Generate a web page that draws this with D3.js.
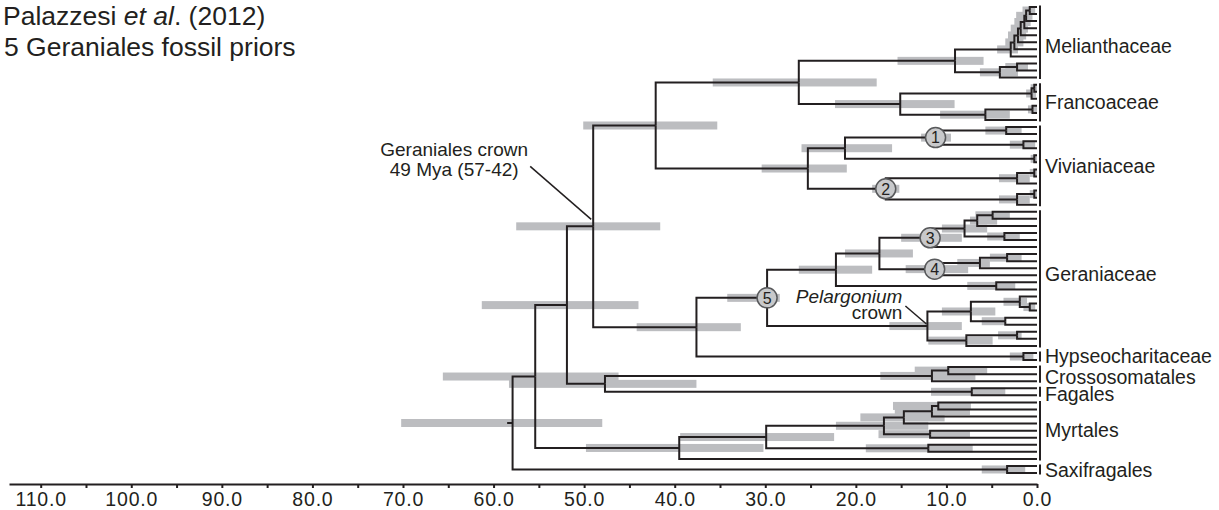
<!DOCTYPE html>
<html>
<head>
<meta charset="utf-8">
<script src="https://cdn.jsdelivr.net/npm/d3@7"></script>
<style>
body { margin: 0; background: #fff; }
svg { display: block; font-family: "Liberation Sans", Arial, sans-serif; }
</style>
</head>
<body>
<div id="chart-area"></div>
<script>
// SVG size
const width = 1219,
	height = 510;

// Internal nodes: [id, parent, age (Mya), 95% HPD older, 95% HPD younger]
const backboneNodes = [
	["root", null, 57.9, 70.2, 48.0],
	["n55", "root", 55.4, 65.6, 46.2],
	["n52", "n55", 51.9, 61.3, 44.0],
	["n49", "n52", 49.0, 57.5, 41.6],
	["n42", "n49", 42.1, 50.1, 35.3],
	["n26", "n42", 26.3, 35.8, 17.7],
	["n25", "n42", 25.3, 30.4, 21.0],
	["n37", "n49", 37.6, 44.2, 32.7],
	["n47", "n52", 47.7, 58.3, 37.6]
];

const melianthaceaeNodes = [
	["mel", "n26", 9.05, 15.4, 5.9],
	["m7", "mel", 2.9, 4.4, 2.1],
	["m6", "m7", 2.5, 3.5, 1.5],
	["m5", "m6", 2.1, 3.2, 1.2],
	["m4", "m5", 1.8, 2.9, 1.0],
	["m3", "m4", 1.4, 2.5, 0.7],
	["m2", "m3", 1.2, 2.3, 0.5],
	["m1", "m2", 0.8, 1.6, 0.2],
	["ml", "mel", 4.1, 6.3, 2.1],
	["ml2", "ml", 2.2, 3.5, 1.0]
];

const francoaceaeNodes = [
	["fra", "n26", 15.1, 22.3, 9.1],
	["fr1", "fra", 0.6, 1.2, 0.1],
	["fr2", "fr1", 0.3, 0.7, 0.0],
	["fr3", "fra", 5.7, 10.7, 3.0],
	["fr4", "fr3", 0.5, 1.0, 0.0]
];

const vivianiaceaeNodes = [
	["n21", "n25", 21.2, 26.0, 16.0],
	["c1", "n21", 11.2, 12.8, 9.5],
	["vi1", "c1", 3.4, 5.7, 1.7],
	["vi2", "c1", 1.5, 3.0, 0.2],
	["vi3", "n21", 0.3, 0.7, 0.0],
	["c2", "n25", 16.7, 18.2, 15.2],
	["vi4", "c2", 2.2, 4.2, 0.8],
	["vi5", "vi4", 0.3, 0.8, 0.0],
	["vi6", "c2", 2.2, 4.2, 0.8],
	["vi7", "vi6", 0.3, 0.8, 0.0]
];

const geraniaceaeNodes = [
	["c5", "n37", 29.8, 34.2, 28.4],
	["g22", "c5", 22.2, 26.3, 18.2],
	["g17", "g22", 17.4, 21.2, 13.7],
	["c3", "g17", 11.8, 15.0, 8.3],
	["g8", "c3", 8.0, 10.5, 5.5],
	["g66", "g8", 6.6, 7.4, 4.4],
	["g49", "g66", 4.9, 6.8, 3.0],
	["g36", "g8", 3.6, 5.5, 1.9],
	["c4", "g17", 11.3, 14.5, 7.6],
	["g63", "c4", 6.3, 8.8, 5.2],
	["g33", "g63", 3.3, 5.2, 1.7],
	["g45", "g22", 4.5, 7.7, 2.4],
	["pel", "c5", 12.1, 16.3, 8.3],
	["p4", "pel", 7.3, 10.5, 4.6],
	["p1", "p4", 1.9, 3.7, 1.1],
	["p1b", "p1", 0.8, 1.5, 0.2],
	["p2", "p4", 3.5, 6.1, 3.5],
	["p5", "pel", 7.8, 12.0, 4.9],
	["p6", "p5", 2.2, 4.3, 1.7],
	["hyp", "n37", 1.5, 3.0, 0.4]
];

const outgroupNodes = [
	["cro2", "n47", 11.6, 17.3, 6.8],
	["cro1", "cro2", 9.8, 13.5, 5.5],
	["fag", "n47", 7.2, 11.7, 3.5],
	["my8", "n55", 39.5, 49.8, 30.2],
	["my7", "my8", 29.9, 39.4, 22.4],
	["my5", "my7", 16.9, 22.2, 12.0],
	["my3", "my5", 14.7, 19.5, 10.2],
	["my2", "my3", 11.6, 15.7, 7.4],
	["my1", "my2", 10.9, 15.9, 7.3],
	["my4", "my5", 11.8, 17.5, 7.4],
	["my6", "my7", 12.0, 18.9, 7.1],
	["sax", "root", 3.3, 6.1, 1.3]
];

// Parent of every tip, top to bottom
const tipParents = [
	"m1", "m1", "m2", "m3", "m4", "m5", "m6", "m7", "ml2", "ml2", "ml",
	"fr2", "fr2", "fr1", "fr4", "fr4", "fr3",
	"vi1", "vi1", "vi2", "vi2", "vi3", "vi3", "vi5", "vi5", "vi4", "vi7", "vi7", "vi6",
	"g49", "g49", "g66", "g36", "g36", "c3", "g33", "g33", "g63", "c4", "g45", "g45",
	"p1", "p1b", "p1b", "p2", "p2", "p6", "p6", "p5",
	"hyp", "hyp",
	"cro1", "cro1", "cro2", "fag", "fag",
	"my1", "my1", "my2", "my3", "my4", "my4", "my6", "my6", "my8",
	"sax", "sax"
];

// Clade labels: [name, first tip, last tip]
const groups = [
	["Melianthaceae", 0, 10],
	["Francoaceae", 11, 16],
	["Vivianiaceae", 17, 28],
	["Geraniaceae", 29, 48],
	["Hypseocharitaceae", 49, 50],
	["Crossosomatales", 51, 53],
	["Fagales", 54, 55],
	["Myrtales", 56, 64],
	["Saxifragales", 65, 66]
];

// Fossil calibration points
const calibrations = [["c1", "1"], ["c2", "2"], ["c3", "3"], ["c4", "4"], ["c5", "5"]];

const majorTicks = [110, 100, 90, 80, 70, 60, 50, 40, 30, 20, 10, 0];
const minorTicks = [105, 95, 85, 75, 65, 55, 45, 35, 25, 15, 5];

const ink = "#231f20";

// small hand nudges of clade label positions (px), as in the figure
const labelNudge = {Melianthaceae: 4, Geraniaceae: -5, Crossosomatales: 3, Fagales: 2, Saxifragales: 1};

drawTree();

function drawTree() {

	let svg = d3.select("#chart-area")
		.append("svg")
		.attr("width", width)
		.attr("height", height);

	// Scales: age runs right to left, tips evenly spaced
	const x = d3.scaleLinear()
		.domain([113.5, 0])
		.range([9, 1037]);

	const y = d3.scaleLinear()
		.domain([0, tipParents.length - 1])
		.range([7, 473]);

	// Build the hierarchy
	let rows = []
		.concat(backboneNodes, melianthaceaeNodes, francoaceaeNodes, vivianiaceaeNodes, geraniaceaeNodes, outgroupNodes)
		.map(r => ({id: r[0], parent: r[1], age: r[2], hi: r[3], lo: r[4]}));
	tipParents.forEach((p, i) => rows.push({id: "t" + i, parent: p, age: 0, tip: i}));

	const root = d3.stratify()
		.id(d => d.id)
		.parentId(d => d.parent)(rows);

	root.eachAfter(n => {
		n.minTip = n.children ? d3.min(n.children, c => c.minTip) : n.data.tip;
	});
	root.sort((a, b) => a.minTip - b.minTip);
	root.eachAfter(n => {
		n.py = n.children
			? (n.children[0].py + n.children[n.children.length - 1].py) / 2
			: y(n.data.tip);
	});

	const nodeById = new Map(root.descendants().map(n => [n.id, n]));

	// HPD bars
	svg.append("g")
		.selectAll("rect")
		.data(root.descendants().filter(n => n.children))
		.enter()
		.append("rect")
		.attr("x", d => x(d.data.hi))
		.attr("y", d => d.py - 4)
		.attr("width", d => x(d.data.lo) - x(d.data.hi))
		.attr("height", 8)
		.style("fill", "#bcbdc0");

	// Branches
	svg.append("g")
		.selectAll("path")
		.data(root.descendants().filter(n => n.parent))
		.enter()
		.append("path")
		.attr("d", d => "M" + x(d.parent.data.age) + "," + d.parent.py
			+ "V" + d.py + "H" + x(d.data.age))
		.style("fill", "none")
		.style("stroke", ink)
		.style("stroke-width", 2);

	// root stem
	svg.append("line")
		.attr("x1", x(58.5))
		.attr("x2", x(root.data.age))
		.attr("y1", root.py)
		.attr("y2", root.py)
		.style("stroke", ink)
		.style("stroke-width", 2);

	// Calibration circles
	let cal = svg.append("g")
		.selectAll("g")
		.data(calibrations)
		.enter()
		.append("g")
		.attr("transform", d => {
			const n = nodeById.get(d[0]);
			return "translate(" + x(n.data.age) + "," + n.py + ")";
		});
	cal.append("circle")
		.attr("r", 10)
		.style("fill", "#c8c9cb")
		.style("stroke", "#58595b")
		.style("stroke-width", 1.5);
	cal.append("text")
		.attr("text-anchor", "middle")
		.attr("dy", "0.36em")
		.style("font-size", "16px")
		.style("fill", ink)
		.text(d => d[1]);

	// Clade brackets and labels
	let grp = svg.append("g")
		.selectAll("g")
		.data(groups)
		.enter()
		.append("g");
	grp.append("line")
		.attr("x1", x(0) + 3)
		.attr("x2", x(0) + 3)
		.attr("y1", d => y(d[1]) - 1.5)
		.attr("y2", d => y(d[2]) + 1.5)
		.style("stroke", ink)
		.style("stroke-width", 2);
	grp.append("text")
		.attr("x", x(0) + 8)
		.attr("y", d => (y(d[1]) + y(d[2])) / 2 + (labelNudge[d[0]] || 0))
		.attr("dy", "0.35em")
		.style("font-size", "19.5px")
		.style("fill", ink)
		.text(d => d[0]);

	// Axis
	const xAxis = d3.axisBottom(x)
		.tickValues(majorTicks)
		.tickFormat(d3.format(".1f"))
		.tickSize(4)
		.tickSizeOuter(0)
		.tickPadding(4);
	const minorAxis = d3.axisBottom(x)
		.tickValues(minorTicks)
		.tickFormat("")
		.tickSize(4)
		.tickSizeOuter(0);

	let axisG = svg.append("g")
		.attr("class", "x-axis")
		.attr("transform", "translate(0,484)")
		.call(xAxis);
	svg.append("g")
		.attr("class", "x-axis-minor")
		.attr("transform", "translate(0,484)")
		.call(minorAxis)
		.select(".domain").remove();
	svg.selectAll(".x-axis path, .x-axis line, .x-axis-minor line")
		.style("stroke", ink)
		.style("stroke-width", 2);
	axisG.selectAll("text")
		.style("font-family", "Liberation Sans, Arial, sans-serif")
		.style("font-size", "19.5px")
		.style("letter-spacing", "0.8px")
		.style("fill", ink);

	// Title
	let title = svg.append("text")
		.attr("x", 3)
		.attr("y", 25)
		.style("font-size", "26.5px")
		.style("fill", ink);
	title.append("tspan").text("Palazzesi ");
	title.append("tspan").style("font-style", "italic").text("et al");
	title.append("tspan").text(". (2012)");
	svg.append("text")
		.attr("x", 4)
		.attr("y", 56)
		.style("font-size", "26.5px")
		.style("fill", ink)
		.text("5 Geraniales fossil priors");

	// Geraniales crown annotation
	const ger = nodeById.get("n49");
	svg.append("line")
		.attr("x1", x(ger.data.age) - 63)
		.attr("y1", ger.py - 60)
		.attr("x2", x(ger.data.age) - 2)
		.attr("y2", ger.py - 7)
		.style("stroke", ink)
		.style("stroke-width", 1.5);
	svg.append("text")
		.attr("x", x(ger.data.age) - 139)
		.attr("y", ger.py - 70)
		.attr("text-anchor", "middle")
		.style("font-size", "19px")
		.style("fill", ink)
		.text("Geraniales crown");
	svg.append("text")
		.attr("x", x(ger.data.age) - 139)
		.attr("y", ger.py - 50)
		.attr("text-anchor", "middle")
		.style("font-size", "19px")
		.style("fill", ink)
		.text("49 Mya (57-42)");

	// Pelargonium crown annotation
	const pel = nodeById.get("pel");
	svg.append("line")
		.attr("x1", x(pel.data.age) - 22)
		.attr("y1", pel.py - 20)
		.attr("x2", x(pel.data.age) - 1)
		.attr("y2", pel.py - 2)
		.style("stroke", ink)
		.style("stroke-width", 1.5);
	svg.append("text")
		.attr("x", x(pel.data.age) - 25)
		.attr("y", pel.py - 23)
		.attr("text-anchor", "end")
		.style("font-size", "19px")
		.style("font-style", "italic")
		.style("fill", ink)
		.text("Pelargonium");
	svg.append("text")
		.attr("x", x(pel.data.age) - 25)
		.attr("y", pel.py - 7)
		.attr("text-anchor", "end")
		.style("font-size", "19px")
		.style("fill", ink)
		.text("crown");
}
</script>
</body>
</html>
